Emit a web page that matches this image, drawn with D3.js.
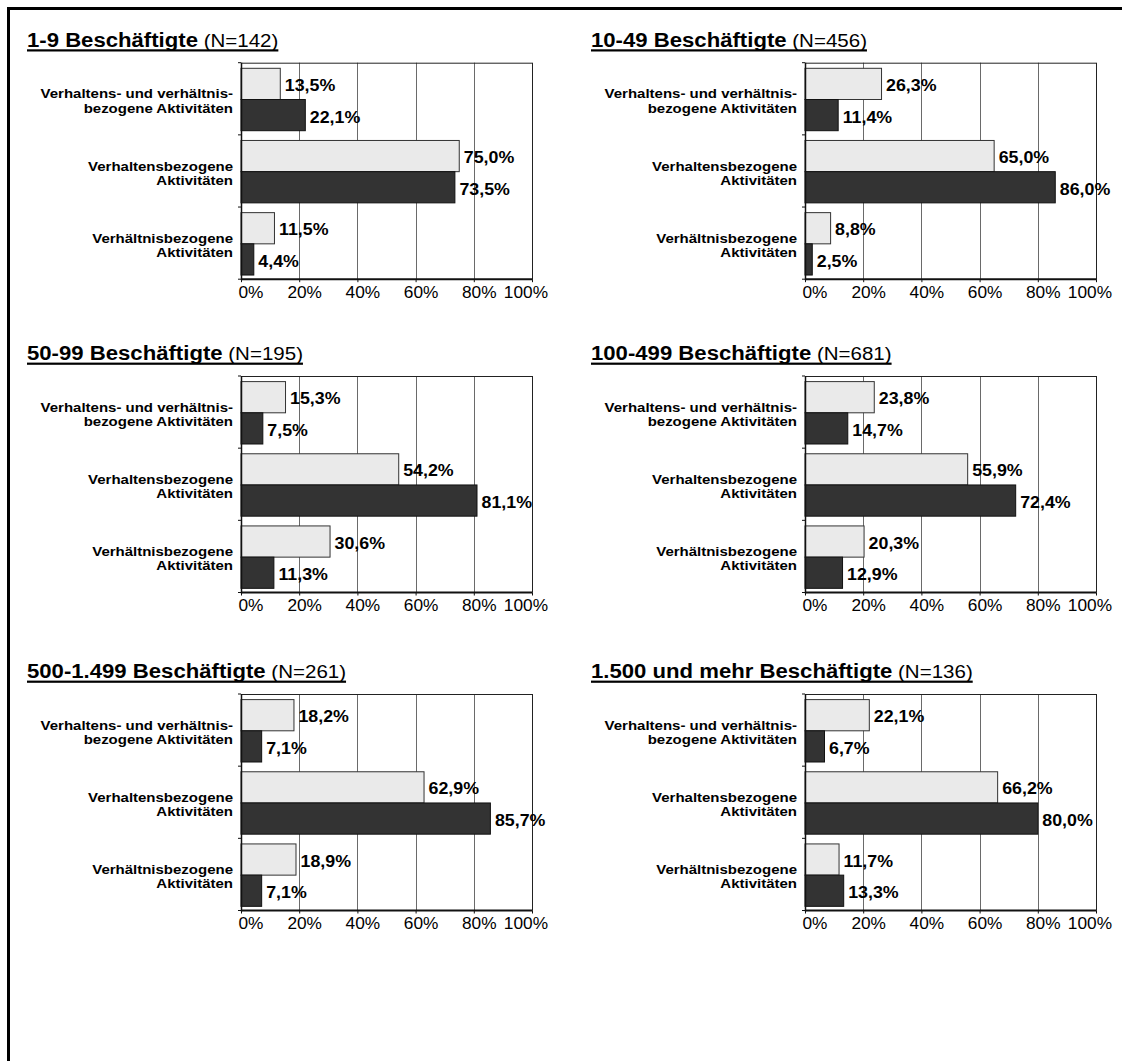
<!DOCTYPE html>
<html><head><meta charset="utf-8">
<script src="https://cdn.jsdelivr.net/npm/d3@7/dist/d3.min.js"></script>
<style>
html,body{margin:0;padding:0;background:#fff;}
svg{display:block;}
text{font-family:Arial,"Liberation Sans",sans-serif;fill:#000;}
</style></head>
<body>
<script>
// ---- data ----
const categories = [
  ["Verhaltens- und verhältnis-", "bezogene Aktivitäten"],
  ["Verhaltensbezogene", "Aktivitäten"],
  ["Verhältnisbezogene", "Aktivitäten"]
];
const panelTitles = ["1-9 Beschäftigte", "10-49 Beschäftigte", "50-99 Beschäftigte",
  "100-499 Beschäftigte", "500-1.499 Beschäftigte", "1.500 und mehr Beschäftigte"];
const panelN = ["(N=142)", "(N=456)", "(N=195)", "(N=681)", "(N=261)", "(N=136)"];
const seriesLight = [
  [13.5, 75.0, 11.5],
  [26.3, 65.0, 8.8],
  [15.3, 54.2, 30.6],
  [23.8, 55.9, 20.3],
  [18.2, 62.9, 18.9],
  [22.1, 66.2, 11.7]
];
const seriesDark = [
  [22.1, 73.5, 4.4],
  [11.4, 86.0, 2.5],
  [7.5, 81.1, 11.3],
  [14.7, 72.4, 12.9],
  [7.1, 85.7, 7.1],
  [6.7, 80.0, 13.3]
];
const tickValues = [0, 20, 40, 60, 80, 100];
const tickLabels = ["0%", "20%", "40%", "60%", "80%", "100%"];

// ---- layout ----
const W = 1122, H = 1061;
const SX = 1.08; // horizontal text stretch
const SXL = 1.2; // stretch for category labels
const plotW = 291, plotH = 216.5;
const colX = [241, 805];
const rowY = [62.7, 376, 694];

const svg = d3.select("body").append("svg").attr("width", W).attr("height", H);

// page border (top and left)
svg.append("line").attr("x1", 7).attr("x2", W).attr("y1", 8.5).attr("y2", 8.5)
  .attr("stroke", "#000").attr("stroke-width", 3);
svg.append("line").attr("x1", 8.5).attr("x2", 8.5).attr("y1", 7).attr("y2", H)
  .attr("stroke", "#000").attr("stroke-width", 3);

function sText(g, x, y, str, opts) {
  const t = g.append("text")
    .attr("transform", `translate(${x},${y}) scale(${opts.sx || SX},1)`)
    .attr("text-anchor", opts.anchor || "start")
    .style("font-size", opts.size + "px")
    .style("font-weight", opts.weight || "normal")
    .text(str);
  return t;
}

panelTitles.forEach((title, i) => {
  const px = colX[i % 2], py = rowY[Math.floor(i / 2)];
  const g = svg.append("g").attr("transform", `translate(${px},${py})`);

  const x = d3.scaleLinear().domain([0, 100]).range([0, plotW]);
  const y = d3.scaleBand().domain(d3.range(categories.length)).range([0, plotH]).padding(0);
  const barH = 31.2, topOff = 5.6;

  // gridlines
  g.selectAll(".grid").data(tickValues.slice(1)).enter().append("line")
    .attr("x1", d => Math.round(x(d)) + 0.5).attr("x2", d => Math.round(x(d)) + 0.5)
    .attr("y1", 0).attr("y2", plotH)
    .attr("stroke", d => d === 100 ? "#222" : "#6a6a6a").attr("stroke-width", 1);
  // top frame
  g.append("line").attr("x1", 0).attr("x2", plotW).attr("y1", 0.5).attr("y2", 0.5)
    .attr("stroke", "#222").attr("stroke-width", 1);

  // bars
  const light = seriesLight[i], dark = seriesDark[i];
  g.selectAll(".bl").data(light).enter().append("rect")
    .attr("x", 0).attr("y", (d, k) => y(k) + topOff)
    .attr("width", d => x(d)).attr("height", barH)
    .attr("fill", "#eaeaea").attr("stroke", "#333").attr("stroke-width", 1);
  g.selectAll(".bd").data(dark).enter().append("rect")
    .attr("x", 0).attr("y", (d, k) => y(k) + topOff + barH)
    .attr("width", d => x(d)).attr("height", barH)
    .attr("fill", "#333333").attr("stroke", "#111").attr("stroke-width", 1);

  // value labels
  const fmt = v => v.toFixed(1).replace(".", ",") + "%";
  light.forEach((v, k) => {
    sText(g, x(v) + 4.5, y(k) + topOff + barH / 2 + 7, fmt(v), {size: 16.5, weight: "bold"});
  });
  dark.forEach((v, k) => {
    sText(g, x(v) + 4.5, y(k) + topOff + barH * 1.5 + 7.5, fmt(v), {size: 16.5, weight: "bold"});
  });

  // axes lines
  g.append("line").attr("x1", 0.5).attr("x2", 0.5).attr("y1", 0).attr("y2", plotH + 1)
    .attr("stroke", "#111").attr("stroke-width", 1.5);
  g.append("line").attr("x1", 0).attr("x2", plotW + 0.5).attr("y1", plotH).attr("y2", plotH)
    .attr("stroke", "#111").attr("stroke-width", 2);
  // y ticks at band boundaries
  g.selectAll(".yt").data(d3.range(categories.length + 1)).enter().append("line")
    .attr("x1", -3).attr("x2", 0).attr("y1", d => d * y.bandwidth()).attr("y2", d => d * y.bandwidth())
    .attr("stroke", "#111");
  // x ticks
  g.selectAll(".xt").data(tickValues).enter().append("line")
    .attr("x1", d => x(d) + 0.5).attr("x2", d => x(d) + 0.5).attr("y1", plotH).attr("y2", plotH + 3)
    .attr("stroke", "#111");
  // x tick labels
  tickValues.forEach((v, k) => {
    let anchor = "middle", tx = x(v) + 5.5;
    if (k === 0) { anchor = "start"; tx = x(v) - 2.5; }
    if (k === tickValues.length - 1) { anchor = "end"; tx = x(v) + 16; }
    sText(g, tx, plotH + 18.5, tickLabels[k], {size: 16, anchor: anchor});
  });

  // category labels
  categories.forEach((lines, k) => {
    const cy = y(k) + y.bandwidth() / 2;
    lines.forEach((ln, j) => {
      sText(g, -8, cy - 0.4 + j * 14.2, ln, {size: 12.5, weight: "bold", anchor: "end", sx: SXL});
    });
  });

  // title
  const tx0 = -214, ty0 = -16;
  const t = g.append("text")
    .attr("transform", `translate(${tx0},${ty0}) scale(${SX},1)`);
  t.append("tspan").style("font-size", "20.5px").style("font-weight", "bold").text(title);
  t.append("tspan").style("font-size", "19px").text(" " + panelN[i]);
  const tw = t.node().getComputedTextLength() * SX;
  g.append("rect").attr("x", tx0).attr("y", ty0 + 2.6).attr("width", tw).attr("height", 2.2).attr("fill", "#000");
});
</script>
</body></html>
